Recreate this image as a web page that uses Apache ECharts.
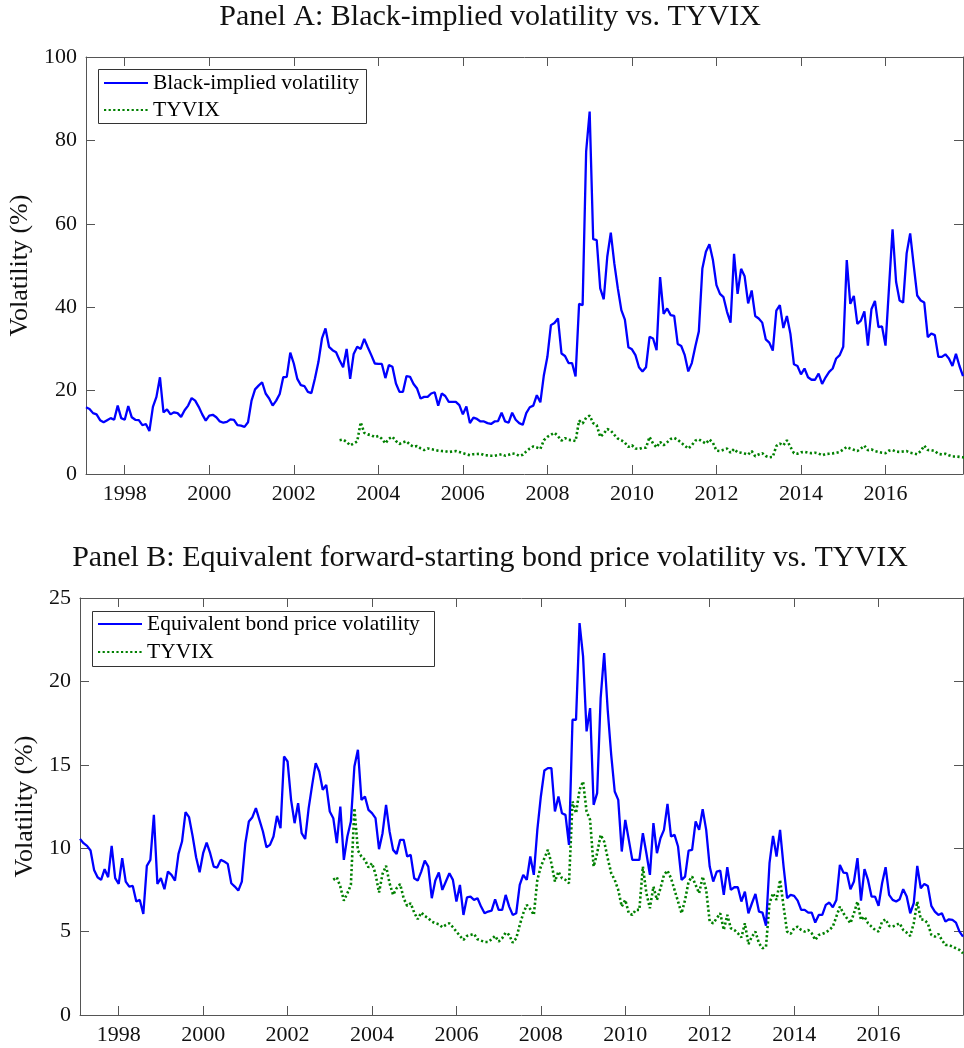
<!DOCTYPE html>
<html><head><meta charset="utf-8">
<script src="https://cdn.jsdelivr.net/npm/echarts@6/dist/echarts.min.js"></script>
<style>html,body{margin:0;padding:0;background:#fff}#c{width:964px;height:1048px}</style>
</head><body><div id="c"></div>
<script>
// Monthly observations, first one at end of January 1997
const startYear = 1997;
const yearTicks = [1998, 2000, 2002, 2004, 2006, 2008, 2010, 2012, 2014, 2016];

// Panel A: Black-implied volatility (%)
const blackVol = [
16.0,15.6,14.6,14.3,12.9,12.4,12.9,13.4,13.0,16.4,
13.4,13.0,16.3,13.6,13.0,12.9,11.7,12.0,10.3,16.1,
18.5,23.2,14.8,15.5,14.3,14.8,14.6,13.7,15.3,16.4,
18.2,17.6,16.1,14.3,12.8,14.0,14.2,13.6,12.6,12.3,
12.5,13.1,13.0,11.7,11.6,11.3,12.4,17.6,20.3,21.2,
22.0,19.3,18.1,16.4,17.6,19.2,23.2,23.3,29.1,26.5,
22.8,21.3,21.1,19.7,19.4,22.9,26.9,32.5,34.9,30.5,
29.7,29.2,27.3,25.6,30.0,22.8,28.8,30.5,30.0,32.4,
30.4,28.5,26.5,26.4,26.4,23.0,26.1,25.7,21.7,19.7,
19.7,23.5,23.3,21.6,20.5,18.1,18.5,18.5,19.3,19.6,
16.4,19.3,18.7,17.3,17.3,17.3,16.5,14.3,16.2,12.2,
13.5,13.2,12.6,12.6,12.2,12.0,12.6,12.7,14.7,12.6,
12.3,14.7,13.0,12.2,11.8,14.6,16.0,16.4,18.9,17.2,
23.7,28.1,35.7,36.2,37.3,28.9,28.3,26.6,26.6,23.4,
40.8,40.5,77.3,86.9,56.3,56.1,44.5,41.9,52.1,57.9,
50.5,44.5,39.3,37.0,30.4,29.9,28.5,25.6,24.6,25.6,
32.9,32.5,29.7,47.2,38.4,39.7,38.1,37.9,31.2,30.7,
28.5,24.6,26.6,30.6,34.2,49.3,53.3,55.1,51.3,45.3,
43.2,42.4,38.9,36.3,52.8,43.2,49.2,47.4,40.9,44.0,
37.9,37.3,36.3,32.3,31.5,29.6,39.2,40.5,35.0,37.9,
33.6,26.3,25.9,23.9,25.3,23.2,22.6,22.6,24.1,21.6,
23.2,24.5,25.3,27.7,28.5,30.5,51.3,40.8,42.7,36.0,
36.8,39.0,30.8,39.5,41.5,35.2,35.4,30.8,44.8,58.7,
46.1,41.6,41.1,52.9,57.7,50.1,42.8,41.6,41.1,32.8,
33.7,33.3,28.1,28.1,28.7,27.7,25.9,28.8,25.9,23.5
];

// Panel B: Equivalent bond price volatility (%)
const bondVol = [
10.56,10.3,10.14,9.86,8.7,8.26,8.1,8.74,8.26,10.14,
8.2,7.86,9.4,8.0,7.7,7.74,6.8,6.9,6.06,8.94,
9.3,12.0,7.86,8.2,7.54,8.6,8.4,8.06,9.66,10.4,
12.16,11.86,10.74,9.46,8.56,9.7,10.34,9.7,8.9,8.84,
9.3,9.2,9.06,7.9,7.7,7.46,8.0,10.3,11.6,11.86,
12.4,11.7,11.0,10.06,10.2,10.7,11.94,11.2,15.5,15.2,
12.9,11.5,12.7,10.9,10.55,12.4,13.8,15.1,14.6,13.5,
13.8,12.2,11.8,10.3,12.5,9.3,10.7,11.6,14.9,15.9,
12.9,13.1,12.3,12.1,11.8,9.94,10.9,12.6,11.0,9.9,
9.66,10.5,10.5,9.5,9.6,8.2,8.06,8.6,9.26,8.9,
7.0,8.06,8.54,7.5,8.0,8.5,8.1,6.8,7.8,6.0,
7.05,7.1,6.9,7.0,6.5,6.1,6.2,6.26,6.94,6.3,
6.3,7.2,6.5,6.0,6.1,7.8,8.4,8.1,9.5,8.4,
11.1,13.1,14.66,14.8,14.8,12.2,13.1,12.1,12.0,10.2,
17.7,17.7,23.5,21.5,17.0,18.4,12.6,13.3,19.0,21.7,
18.3,15.6,13.4,12.9,9.8,11.7,10.5,9.3,9.3,9.3,
10.9,9.7,8.4,11.5,9.7,10.6,11.1,12.66,10.7,10.8,
10.1,8.1,8.3,9.86,9.9,11.6,11.1,12.34,11.1,8.9,
8.0,8.6,8.66,7.2,8.86,7.5,7.66,7.66,6.8,7.4,
6.1,6.7,7.26,6.2,6.14,5.35,9.1,10.74,9.5,11.1,
8.9,7.0,7.2,7.14,6.86,6.3,6.3,6.14,6.14,5.54,
6.0,6.0,6.6,6.74,6.46,6.9,9.0,8.54,8.5,7.54,
8.0,9.4,6.86,8.74,8.1,7.1,7.1,6.54,7.9,8.86,
7.2,6.9,6.8,6.94,7.54,7.1,6.1,6.7,8.94,7.6,
7.86,7.74,6.54,6.2,6.0,6.1,5.6,5.74,5.7,5.54,
5.0,4.7
];

// TYVIX (%), starts with the 73rd monthly observation (Jan 2003)
const tyvixStartIndex = 72;
const tyvix = [
8.1,8.26,7.7,6.86,7.3,7.8,12.4,9.86,9.5,9.3,
8.85,9.1,8.46,7.34,8.46,8.94,7.9,7.2,7.6,7.85,
7.0,6.54,6.7,6.14,5.74,6.14,5.94,5.8,5.6,5.5,
5.44,5.26,5.4,5.5,5.26,5.0,4.74,4.5,4.74,4.8,
4.86,4.54,4.46,4.38,4.38,4.54,4.74,4.4,4.6,4.94,
4.8,4.34,4.6,5.4,6.1,6.6,6.35,6.0,8.1,8.9,
9.4,9.9,9.1,8.0,8.6,8.2,8.1,7.9,12.8,12.1,
13.5,14.0,12.2,11.7,8.9,9.7,10.8,10.4,9.4,8.5,
8.1,7.5,6.5,6.9,6.1,6.0,6.3,6.3,8.9,7.3,
6.4,7.7,6.9,7.6,8.4,8.66,8.2,7.5,6.8,6.1,
6.9,8.0,8.3,7.8,7.3,8.3,7.5,5.6,5.5,5.8,
6.1,5.1,6.0,5.2,5.1,4.9,4.65,5.5,4.25,4.7,
5.0,4.3,4.0,4.1,6.7,7.3,6.9,8.1,6.5,5.0,
4.86,5.2,5.3,5.1,5.0,5.1,4.9,4.5,4.8,4.86,
4.94,5.1,5.3,5.9,6.5,6.1,5.8,5.5,6.1,6.8,
5.7,5.9,5.5,5.3,5.1,5.0,5.6,5.74,5.34,5.3,
5.4,5.5,5.1,4.94,4.74,5.5,6.8,5.74,5.7,5.5,
4.8,4.7,4.86,4.5,4.2,4.2,4.1,4.0,3.9,3.7
];

function toXY(arr, offset) {
  return arr.map((v, k) => [startYear + (k + offset + 1) / 12, v]);
}

const FONT = 'Liberation Serif';
const AXC = '#555';
const BLUE = '#0000ff';
const GREEN = '#008000';

const xMinA = startYear + 1 / 12, xMaxA = startYear + blackVol.length / 12;
const xMinB = startYear + 1 / 12, xMaxB = startYear + bondVol.length / 12;

function xAx(grid, pos, min, max, labels) {
  return {
    type: 'value', gridIndex: grid, position: pos, min: min, max: max,
    axisLine: { show: true, onZero: false, lineStyle: { color: AXC, width: 1 } },
    axisTick: { show: true, inside: true, length: 9, customValues: yearTicks, lineStyle: { color: AXC } },
    axisLabel: { show: labels, customValues: yearTicks, formatter: v => String(v), margin: 9,
      fontFamily: FONT, fontSize: 22, color: '#111' },
    splitLine: { show: false }
  };
}
function yAx(grid, pos, max, interval, labels, gap) {
  return {
    type: 'value', gridIndex: grid, position: pos, min: 0, max: max, interval: interval,
    axisLine: { show: true, onZero: false, lineStyle: { color: AXC, width: 1 } },
    axisTick: { show: true, inside: true, length: 9, lineStyle: { color: AXC } },
    axisLabel: { show: labels, margin: 9, fontFamily: FONT, fontSize: 22, color: '#111' },
    splitLine: { show: false },
    name: labels ? 'Volatility (%)' : '', nameLocation: 'middle', nameGap: gap,
    nameTextStyle: { fontFamily: FONT, fontSize: 26, color: '#111' }
  };
}
function solid(name, data, xi, yi) {
  return { name, type: 'line', data, xAxisIndex: xi, yAxisIndex: yi, showSymbol: false, symbol: 'none',
    lineStyle: { color: BLUE, width: 2.3 }, itemStyle: { color: BLUE }, z: 3 };
}
function dotted(name, data, xi, yi) {
  return { name, type: 'line', data, xAxisIndex: xi, yAxisIndex: yi, showSymbol: false, symbol: 'none',
    lineStyle: { color: GREEN, width: 2.6, type: [2.2, 2.4] }, itemStyle: { color: GREEN }, z: 2 };
}

const chart = echarts.init(document.getElementById('c'), null, { renderer: 'canvas' });
chart.setOption({
  animation: false,
  backgroundColor: '#fff',
  grid: [
    { left: 86, top: 57, width: 877, height: 417, outerBoundsMode: 'none' },
    { left: 80, top: 598, width: 883, height: 417, outerBoundsMode: 'none' }
  ],
  xAxis: [
    xAx(0, 'bottom', xMinA, xMaxA, true), xAx(0, 'top', xMinA, xMaxA, false),
    xAx(1, 'bottom', xMinB, xMaxB, true), xAx(1, 'top', xMinB, xMaxB, false)
  ],
  yAxis: [
    yAx(0, 'left', 100, 20, true, 51), yAx(0, 'right', 100, 20, false, 0),
    yAx(1, 'left', 25, 5, true, 40), yAx(1, 'right', 25, 5, false, 0)
  ],
  legend: [
    { orient: 'vertical', left: 103, top: 72, itemWidth: 44, itemHeight: 20, itemGap: 5, padding: 0, z: 20,
      selectedMode: false, data: ['Black-implied volatility', 'TYVIX'],
      itemStyle: { opacity: 0 },
      textStyle: { fontFamily: FONT, fontSize: 21.5, color: '#000' } },
    { orient: 'vertical', left: 97, top: 613, itemWidth: 44, itemHeight: 20, itemGap: 6, padding: 0, z: 20,
      selectedMode: false, data: ['Equivalent bond price volatility', 'TYVIX'],
      itemStyle: { opacity: 0 },
      textStyle: { fontFamily: FONT, fontSize: 21.5, color: '#000' } }
  ],
  graphic: [
    { type: 'rect', z: 5, shape: { x: 98.5, y: 69.5, width: 268, height: 54 }, style: { fill: '#fff', stroke: '#333', lineWidth: 1 } },
    { type: 'rect', z: 5, shape: { x: 92.5, y: 611.5, width: 342, height: 55 }, style: { fill: '#fff', stroke: '#333', lineWidth: 1 } },
    { type: 'text', x: 490, y: 17, style: { text: 'Panel A: Black-implied volatility vs. TYVIX', textAlign: 'center', textVerticalAlign: 'middle', fontFamily: FONT, fontSize: 30, fill: '#111' } },
    { type: 'text', x: 490, y: 558, style: { text: 'Panel B: Equivalent forward-starting bond price volatility vs. TYVIX', textAlign: 'center', textVerticalAlign: 'middle', fontFamily: FONT, fontSize: 30, fill: '#111' } }
  ],
  series: [
    solid('Black-implied volatility', toXY(blackVol, 0), 0, 0),
    dotted('TYVIX', toXY(tyvix, tyvixStartIndex), 0, 0),
    solid('Equivalent bond price volatility', toXY(bondVol, 0), 2, 2),
    dotted('TYVIX', toXY(tyvix, tyvixStartIndex), 2, 2)
  ]
});
</script></body></html>
